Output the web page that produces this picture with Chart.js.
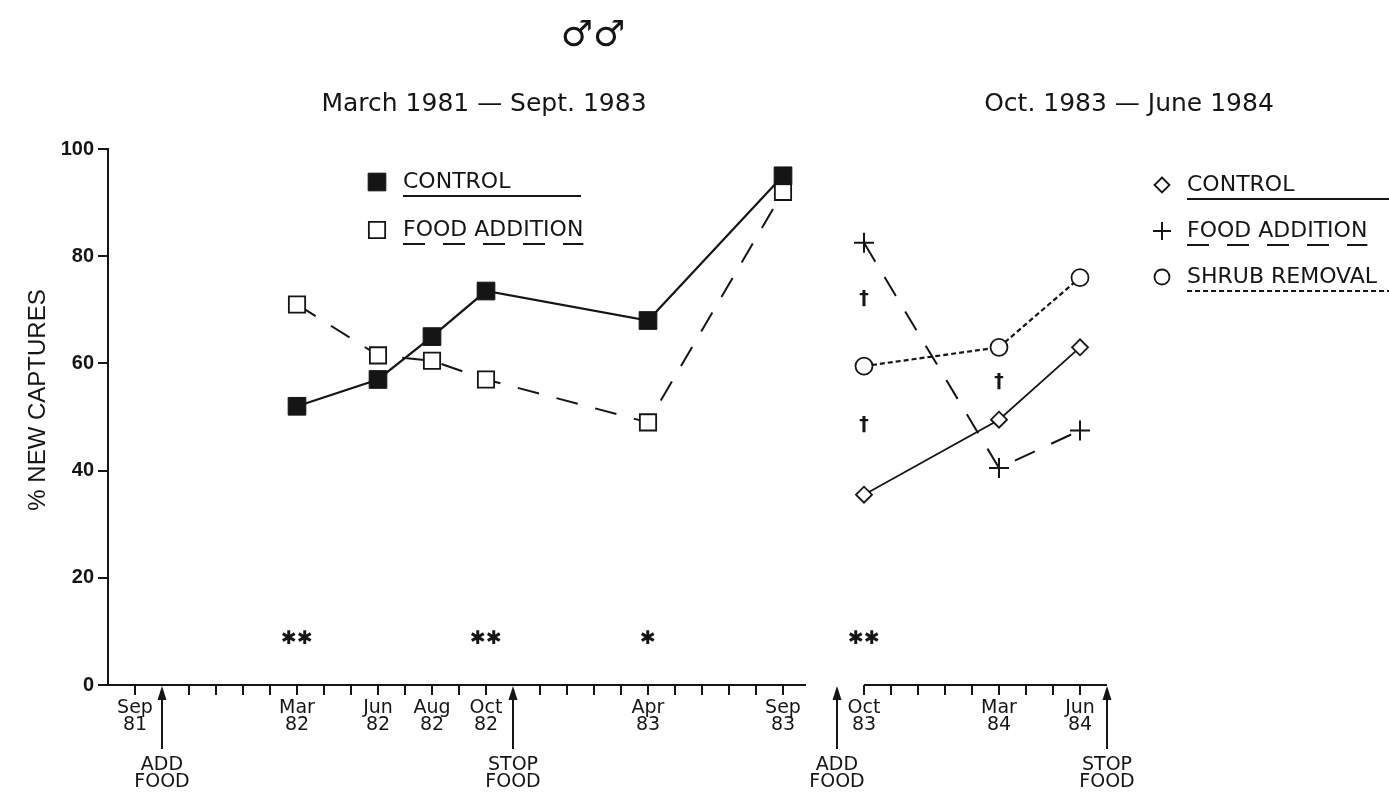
<!DOCTYPE html>
<html>
<head>
<meta charset="utf-8">
<script src="https://cdn.jsdelivr.net/npm/chart.js@4"></script>
<style>
html, body { margin: 0; padding: 0; background: #fff; }
#wrap { position: relative; width: 1389px; height: 793px; }
</style>
</head>
<body>
<div id="wrap"><canvas id="captures" width="1389" height="793"></canvas></div>
<script>
// Period 1: March 1981 - Sept. 1983
const leftMonths = ['Mar 82', 'Jun 82', 'Aug 82', 'Oct 82', 'Apr 83', 'Sep 83'];
const leftControl = [52, 57, 65, 73.5, 68, 95];
const leftFood = [71, 61.5, 60.5, 57, 49, 92];

// Period 2: Oct. 1983 - June 1984
const rightMonths = ['Oct 83', 'Mar 84', 'Jun 84'];
const rightControl = [35.5, 49.5, 63];
const rightFood = [82.5, 40.5, 47.5];
const rightShrub = [59.5, 63, 76];

// significance marks
const sigMonths = ['Mar 82', 'Oct 82', 'Apr 83', 'Oct 83'];
const sigMarks = ['✱✱', '✱✱', '✱', '✱✱'];
const daggerMonths = ['Oct 83', 'Oct 83', 'Mar 84'];
const daggerValues = [72, 48.5, 56.5];

// axes
const yTicks = [0, 20, 40, 60, 80, 100];
const tickLabels = ['Sep 81', 'Mar 82', 'Jun 82', 'Aug 82', 'Oct 82', 'Apr 83', 'Sep 83', 'Oct 83', 'Mar 84', 'Jun 84'];
const eventLabels = ['ADD FOOD', 'STOP FOOD', 'ADD FOOD', 'STOP FOOD'];
const eventMonths = ['Oct 81', 'Nov 82', 'Sep 83', 'Jul 84'];
const eventPanels = [0, 0, 1, 1];

const INK = '#151515';
const FONT = '"DejaVu Sans", sans-serif';
const monthNames = ['Jan', 'Feb', 'Mar', 'Apr', 'May', 'Jun', 'Jul', 'Aug', 'Sep', 'Oct', 'Nov', 'Dec'];
const GAP = 2; // axis months skipped between the two periods

function monthIndex(label) {
    const [m, yr] = label.split(' ');
    return (Number(yr) - 81) * 12 + monthNames.indexOf(m) - 8;
}
function pos(label, panel) {
    if (panel === undefined) panel = monthIndex(label) > monthIndex('Sep 83') ? 1 : 0;
    return monthIndex(label) + (panel ? GAP : 0);
}
const pts = (months, vals, panel) => months.map((m, i) => ({ x: pos(m, panel), y: vals[i] }));

function marker(ctx, ds, x, y) {
    const r = ds.pointRadius;
    ctx.save();
    ctx.lineWidth = ds.pointBorderWidth;
    ctx.strokeStyle = INK;
    ctx.fillStyle = ds.pointBackgroundColor;
    ctx.beginPath();
    if (ds.pointStyle === 'rect') {
        const s = r * Math.SQRT1_2;
        ctx.rect(x - s, y - s, 2 * s, 2 * s);
    } else if (ds.pointStyle === 'rectRot') {
        ctx.moveTo(x, y - r); ctx.lineTo(x + r, y); ctx.lineTo(x, y + r); ctx.lineTo(x - r, y); ctx.closePath();
    } else if (ds.pointStyle === 'circle') {
        ctx.arc(x, y, r, 0, Math.PI * 2);
    } else if (ds.pointStyle === 'cross') {
        ctx.moveTo(x - r, y); ctx.lineTo(x + r, y); ctx.moveTo(x, y - r); ctx.lineTo(x, y + r);
    }
    if (ds.pointStyle !== 'cross') ctx.fill();
    ctx.stroke();
    ctx.restore();
}

function legend(ctx, chart, items, mx, tx, ty, rowGap, lineEnd) {
    items.forEach((i, k) => {
        const ds = chart.data.datasets[i];
        const yy = ty + k * rowGap;
        marker(ctx, Object.assign({}, ds, { pointRadius: ds.legendRadius }), mx, yy);
        ctx.fillStyle = INK;
        ctx.font = '22px ' + FONT;
        ctx.textAlign = 'left';
        ctx.textBaseline = 'middle';
        ctx.fillText(ds.label, tx, yy);
        // long dashes stop under the last letter, the others run on
        const dash = ds.borderDash || [];
        const end = dash[0] > 10 ? tx + ctx.measureText(ds.label).width : lineEnd;
        ctx.save();
        ctx.strokeStyle = INK;
        ctx.lineWidth = 2;
        ctx.setLineDash(dash);
        ctx.beginPath();
        ctx.moveTo(tx, yy + 14);
        ctx.lineTo(end, yy + 14);
        ctx.stroke();
        ctx.restore();
    });
}

const decorations = {
    id: 'decorations',
    afterDraw(chart) {
        const { ctx, scales: { x, y } } = chart;
        const y0 = y.getPixelForValue(0);
        ctx.save();
        ctx.strokeStyle = INK;
        ctx.fillStyle = INK;
        ctx.lineWidth = 2;

        // broken x axis
        const segs = [[x.min, monthIndex('Sep 83') + 0.85], [pos('Oct 83'), pos('Jul 84', 1)]];
        ctx.beginPath();
        segs.forEach(([a, b]) => {
            ctx.moveTo(x.getPixelForValue(a), y0);
            ctx.lineTo(x.getPixelForValue(b), y0);
        });
        ctx.stroke();

        const eventPos = eventMonths.map((m, i) => pos(m, eventPanels[i]));
        ctx.beginPath();
        for (let m = 0; m <= monthIndex('Sep 83'); m++) {
            if (eventPos.includes(m)) continue;
            ctx.moveTo(x.getPixelForValue(m), y0);
            ctx.lineTo(x.getPixelForValue(m), y0 + 10);
        }
        for (let m = pos('Oct 83'); m <= pos('Jun 84'); m++) {
            ctx.moveTo(x.getPixelForValue(m), y0);
            ctx.lineTo(x.getPixelForValue(m), y0 + 10);
        }
        ctx.stroke();

        ctx.font = '19px ' + FONT;
        ctx.textAlign = 'center';
        ctx.textBaseline = 'middle';
        tickLabels.forEach(l => {
            const px = x.getPixelForValue(pos(l));
            const [m, yr] = l.split(' ');
            ctx.fillText(m, px, y0 + 23);
            ctx.fillText(yr, px, y0 + 40);
        });

        // food arrows
        eventPos.forEach((p, i) => {
            const px = x.getPixelForValue(p);
            ctx.beginPath();
            ctx.moveTo(px, y0 + 12);
            ctx.lineTo(px, y0 + 64);
            ctx.stroke();
            ctx.beginPath();
            ctx.moveTo(px, y0 + 1);
            ctx.lineTo(px - 4.5, y0 + 15);
            ctx.lineTo(px + 4.5, y0 + 15);
            ctx.closePath();
            ctx.fill();
            const [w1, w2] = eventLabels[i].split(' ');
            ctx.fillText(w1, px, y0 + 80);
            ctx.fillText(w2, px, y0 + 97);
        });

        // significance
        ctx.font = 'bold 19px ' + FONT;
        sigMonths.forEach((m, i) => {
            ctx.fillText(sigMarks[i], x.getPixelForValue(pos(m)), y.getPixelForValue(8.5));
        });
        daggerMonths.forEach((m, i) => {
            ctx.fillText('†', x.getPixelForValue(pos(m)), y.getPixelForValue(daggerValues[i]));
        });

        // titles
        ctx.font = '36px ' + FONT;
        ctx.fillText('♂♂', 593, 37);
        ctx.font = '25px ' + FONT;
        ctx.fillText('March 1981 \u2014 Sept. 1983', 484, 104);
        ctx.fillText('Oct. 1983 \u2014 June 1984', 1129, 104);

        // y axis title
        ctx.save();
        ctx.translate(38, 400);
        ctx.rotate(-Math.PI / 2);
        ctx.font = '24px "Liberation Sans", Arial, sans-serif';
        ctx.fillText('% NEW CAPTURES', 0, 0);
        ctx.restore();
        ctx.restore();

        legend(ctx, chart, [0, 1], 377, 403, 182, 48, 581);
        legend(ctx, chart, [2, 3, 4], 1162, 1187, 185, 46, 1389);
    }
};

new Chart(document.getElementById('captures'), {
    type: 'line',
    data: {
        datasets: [
            { label: 'CONTROL', data: pts(leftMonths, leftControl, 0), borderColor: INK, borderWidth: 2.2,
              pointStyle: 'rect', pointRadius: 12.5, legendRadius: 12.5, pointBackgroundColor: INK, pointBorderColor: INK, pointBorderWidth: 1 },
            { label: 'FOOD ADDITION', data: pts(leftMonths, leftFood, 0), borderColor: INK, borderWidth: 2, borderDash: [22, 18],
              pointStyle: 'rect', pointRadius: 11.5, legendRadius: 11.5, pointBackgroundColor: '#fff', pointBorderColor: INK, pointBorderWidth: 1.8 },
            { label: 'CONTROL', data: pts(rightMonths, rightControl, 1), borderColor: INK, borderWidth: 1.8,
              pointStyle: 'rectRot', pointRadius: 8, legendRadius: 7.5, pointBackgroundColor: '#fff', pointBorderColor: INK, pointBorderWidth: 1.8 },
            { label: 'FOOD ADDITION', data: pts(rightMonths, rightFood, 1), borderColor: INK, borderWidth: 2, borderDash: [22, 18],
              pointStyle: 'cross', pointRadius: 10, legendRadius: 9, pointBackgroundColor: INK, pointBorderColor: INK, pointBorderWidth: 2 },
            { label: 'SHRUB REMOVAL', data: pts(rightMonths, rightShrub, 1), borderColor: INK, borderWidth: 2.2, borderDash: [5, 3],
              pointStyle: 'circle', pointRadius: 8.5, legendRadius: 7.5, pointBackgroundColor: '#fff', pointBorderColor: INK, pointBorderWidth: 1.8 }
        ]
    },
    options: {
        responsive: false,
        animation: false,
        events: [],
        layout: { padding: { left: 0, top: 149, right: 39, bottom: 108 } },
        plugins: { legend: { display: false }, tooltip: { enabled: false } },
        scales: {
            x: { type: 'linear', min: -1, max: 45, display: false },
            y: {
                min: 0, max: 100,
                afterBuildTicks: s => { s.ticks = yTicks.map(v => ({ value: v })); },
                afterFit: s => { s.width = 108; },
                border: { display: true, color: INK, width: 2 },
                grid: { drawOnChartArea: false, tickLength: 10, color: INK, lineWidth: 2 },
                ticks: { color: INK, padding: 4, font: { family: '"Liberation Sans", Arial, sans-serif', size: 20, weight: 'bold' } }
            }
        }
    },
    plugins: [decorations]
});
</script>
</body>
</html>
